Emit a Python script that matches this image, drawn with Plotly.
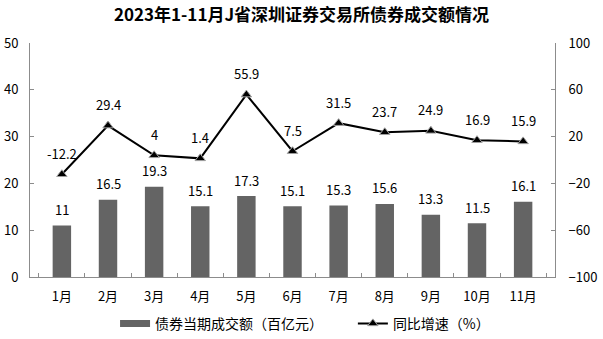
import plotly.graph_objects as go

months = ["1月", "2月", "3月", "4月", "5月", "6月", "7月", "8月", "9月", "10月", "11月"]
turnover = [11, 16.5, 19.3, 15.1, 17.3, 15.1, 15.3, 15.6, 13.3, 11.5, 16.1]
growth = [-12.2, 29.4, 4, 1.4, 55.9, 7.5, 31.5, 23.7, 24.9, 16.9, 15.9]

FONT = "Noto Sans CJK SC"
AXIS_GREY = "#8c8c8c"
BAR_GREY = "#646464"

fig = go.Figure()

fig.add_trace(go.Bar(
    x=months, y=turnover, name="债券当期成交额（百亿元）",
    marker=dict(color=BAR_GREY, line=dict(width=0)),
    yaxis="y", showlegend=False,
))

# wide flat swatch for the bar series in the legend
fig.add_trace(go.Scatter(
    x=[None], y=[None], name="债券当期成交额（百亿元）", mode="lines",
    line=dict(color=BAR_GREY, width=7), legend="legend",
))

fig.add_trace(go.Scatter(
    x=months, y=growth, name="同比增速（%）", mode="lines+markers",
    line=dict(color="black", width=2),
    marker=dict(symbol="triangle-up", size=9, color="black",
                line=dict(color="#a0a0a0", width=1)),
    yaxis="y2", legend="legend2",
))

label_font = dict(family=FONT, size=13, color="black")
annotations = []
for m, v in zip(months, turnover):
    annotations.append(dict(x=m, y=v, xref="x", yref="y", text=f"{v:g}",
                            showarrow=False, yanchor="middle", yshift=16,
                            font=label_font))
for m, v in zip(months, growth):
    annotations.append(dict(x=m, y=v, xref="x", yref="y2", text=f"{v:g}",
                            showarrow=False, yanchor="middle", yshift=21,
                            font=label_font))

legend_font = dict(family=FONT, size=14, color="black")
tick_font = dict(family=FONT, size=13, color="black")

fig.update_layout(
    width=603, height=339,
    margin=dict(l=30, r=48, t=43, b=62, autoexpand=False),
    paper_bgcolor="white", plot_bgcolor="white",
    font=dict(family=FONT, size=13, color="black"),
    title=dict(text="<b>2023年1-11月J省深圳证券交易所债券成交额情况</b>",
               x=0.5, xanchor="center", y=0.957, yanchor="middle",
               font=dict(family=FONT, size=17, color="black")),
    bargap=0.6,
    showlegend=True,
    legend=dict(orientation="h", x=0.162, xanchor="left", y=-0.2, yanchor="middle",
                font=legend_font, bgcolor="rgba(0,0,0,0)"),
    legend2=dict(orientation="h", x=0.615, xanchor="left", y=-0.2, yanchor="middle",
                 font=legend_font, bgcolor="rgba(0,0,0,0)"),
    annotations=annotations,
    xaxis=dict(showline=True, linecolor=AXIS_GREY, linewidth=1,
               ticks="inside", ticklen=4, tickcolor=AXIS_GREY,
               tickson="boundaries", showgrid=False, ticklabelstandoff=7,
               automargin=False, tickfont=tick_font),
    yaxis=dict(range=[0, 50], dtick=10, showline=True, linecolor=AXIS_GREY,
               linewidth=1, ticks="inside", ticklen=4, tickcolor=AXIS_GREY,
               showgrid=False, zeroline=False, ticklabelstandoff=8,
               automargin=False, tickfont=tick_font),
    yaxis2=dict(range=[-100, 100], tickvals=[-100, -60, -20, 20, 60, 100],
                overlaying="y", side="right", showline=True,
                linecolor=AXIS_GREY, linewidth=1, ticks="inside", ticklen=4,
                tickcolor=AXIS_GREY, showgrid=False, zeroline=False,
                ticklabelstandoff=10, automargin=False, tickfont=tick_font),
)

fig.write_html("out.html")
